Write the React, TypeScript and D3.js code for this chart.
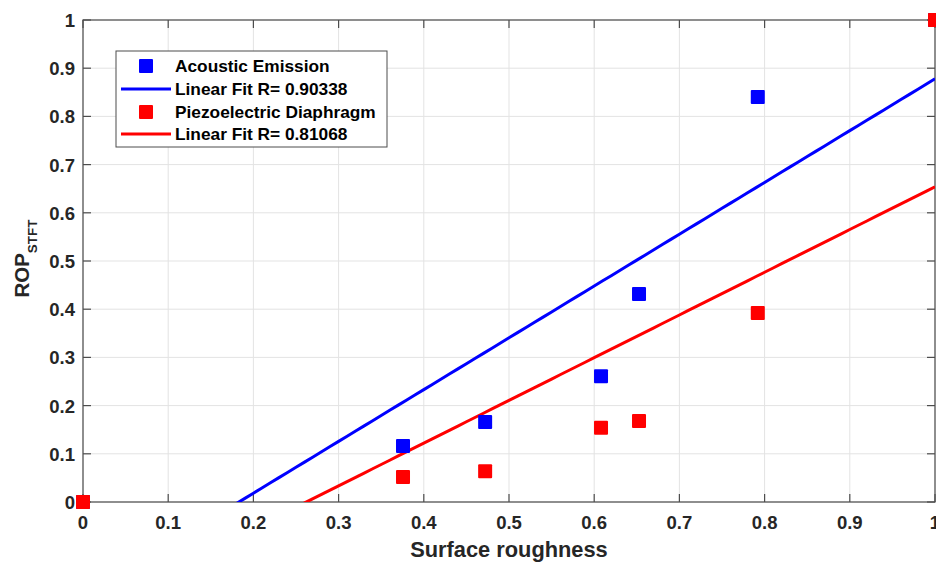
import React from "react";
import * as d3 from "d3";

const roughness = [0, 0.3756, 0.472, 0.608, 0.6526, 0.792, 1];
const acousticEmission = [0, 0.116, 0.166, 0.261, 0.4315, 0.84, 1];
const piezoDiaphragm = [0, 0.052, 0.064, 0.154, 0.168, 0.392, 1];
const xTicks = [0, 0.1, 0.2, 0.3, 0.4, 0.5, 0.6, 0.7, 0.8, 0.9, 1];
const yTicks = [0, 0.1, 0.2, 0.3, 0.4, 0.5, 0.6, 0.7, 0.8, 0.9, 1];
const legendLabels = [
  "Acoustic Emission",
  "Linear Fit R= 0.90338",
  "Piezoelectric Diaphragm",
  "Linear Fit R= 0.81068",
];

function fit(xs: number[], ys: number[]) {
  const mx = d3.mean(xs)!;
  const my = d3.mean(ys)!;
  let sxy = 0, sxx = 0;
  xs.forEach((x, i) => {
    sxy += (x - mx) * (ys[i] - my);
    sxx += (x - mx) * (x - mx);
  });
  const slope = sxy / sxx;
  return { slope, intercept: my - slope * mx };
}

export default function App() {
  const W = 936, H = 562;
  const L = 83, R = 935, T = 20, B = 502;
  const x = d3.scaleLinear().domain([0, 1]).range([L, R]);
  const y = d3.scaleLinear().domain([0, 1]).range([B, T]);
  const font = "Arial, 'Liberation Sans', Helvetica, sans-serif";
  const axisCol = "#4d4d4d";
  const textCol = "#262626";

  const series = [
    { vals: acousticEmission, color: "#0000ff" },
    { vals: piezoDiaphragm, color: "#ff0000" },
  ];
  const fits = series.map((s) => fit(roughness, s.vals));
  const line = d3.line<number>().x((d) => x(d[0])).y((d) => y(d[1]));
  const xs = d3.range(0, 1.0001, 0.01);

  const ms = 14;
  const legX = 116, legY = 51, legW = 271, legH = 96;
  const rowsY = [66, 89, 112, 134];

  return (
    <div style={{ position: "absolute", left: 0, top: 0 }}>
      <svg width={W} height={H} style={{ display: "block", background: "#fff" }} fontFamily={font}>
        <defs>
          <clipPath id="plotclip">
            <rect x={L} y={T} width={R - L} height={B - T} />
          </clipPath>
        </defs>
        {xTicks.map((t) => (
          <line key={"gx" + t} x1={x(t)} x2={x(t)} y1={T} y2={B} stroke="#e3e3e3" strokeWidth={1} />
        ))}
        {yTicks.map((t) => (
          <line key={"gy" + t} x1={L} x2={R} y1={y(t)} y2={y(t)} stroke="#e3e3e3" strokeWidth={1} />
        ))}
        <rect x={L} y={T} width={R - L} height={B - T} fill="none" stroke={axisCol} strokeWidth={1.2} />
        {xTicks.map((t) => (
          <g key={"tx" + t}>
            <line x1={x(t)} x2={x(t)} y1={B} y2={B - 8} stroke={axisCol} strokeWidth={1.2} />
            <line x1={x(t)} x2={x(t)} y1={T} y2={T + 8} stroke={axisCol} strokeWidth={1.2} />
            <text x={x(t)} y={529} textAnchor="middle" fontSize={18.5} fontWeight="bold" fill={textCol}>
              {String(t)}
            </text>
          </g>
        ))}
        {yTicks.map((t) => (
          <g key={"ty" + t}>
            <line x1={L} x2={L + 8} y1={y(t)} y2={y(t)} stroke={axisCol} strokeWidth={1.2} />
            <line x1={R} x2={R - 8} y1={y(t)} y2={y(t)} stroke={axisCol} strokeWidth={1.2} />
            <text x={L - 8} y={y(t) + 7} textAnchor="end" fontSize={18.5} fontWeight="bold" fill={textCol}>
              {String(t)}
            </text>
          </g>
        ))}
        <g clipPath="url(#plotclip)">
          {fits.map((f, i) => (
            <path
              key={"fit" + i}
              d={line(xs.map((v) => [v, f.intercept + f.slope * v]) as any)!}
              fill="none"
              stroke={series[i].color}
              strokeWidth={3}
            />
          ))}
        </g>
        {series.map((s, si) =>
          roughness.map((r, i) => (
            <rect
              key={"m" + si + "-" + i}
              x={x(r) - ms / 2}
              y={y(s.vals[i]) - ms / 2}
              width={ms}
              height={ms}
              fill={s.color}
              rx={1}
            />
          ))
        )}
        <rect x={legX} y={legY} width={legW} height={legH} fill="#fff" stroke={axisCol} strokeWidth={1} />
        {legendLabels.map((lab, i) => {
          const col = i < 2 ? "#0000ff" : "#ff0000";
          const cy = rowsY[i];
          return (
            <g key={"leg" + i}>
              {i % 2 === 0 ? (
                <rect x={146 - 7} y={cy - 7} width={14} height={14} fill={col} rx={1} />
              ) : (
                <line x1={121} x2={171} y1={cy} y2={cy} stroke={col} strokeWidth={3} />
              )}
              <text x={175} y={cy + 6} fontSize={17.3} fontWeight="bold" fill="#000">
                {lab}
              </text>
            </g>
          );
        })}
        <text x={509} y={557} textAnchor="middle" fontSize={21.8} fontWeight="bold" fill={textCol}>
          Surface roughness
        </text>
        <text
          transform={`translate(29, 258.5) rotate(-90)`}
          textAnchor="middle"
          fontSize={20.5}
          fontWeight="bold"
          fill={textCol}
        >
          ROP
          <tspan fontSize={13.5} dy={8}>STFT</tspan>
        </text>
      </svg>
    </div>
  );
}
